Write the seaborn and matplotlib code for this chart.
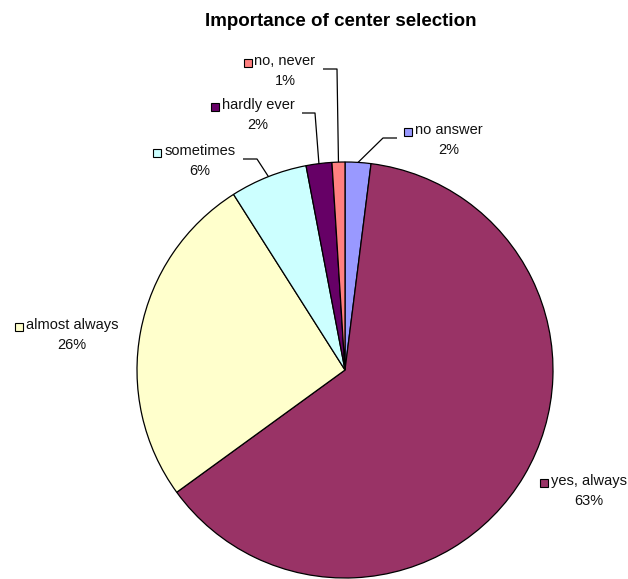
import matplotlib
matplotlib.use("Agg")
import matplotlib.pyplot as plt
from matplotlib.patches import Rectangle
import numpy as np
import seaborn as sns

# Survey answers, listed clockwise from 12 o'clock
categories = ["no answer", "yes, always", "almost always", "sometimes", "hardly ever", "no, never"]
shares = [2, 63, 26, 6, 2, 1]
slice_colors = ["#9999FF", "#993366", "#FFFFCC", "#CCFFFF", "#660066", "#FF8080"]
chart_title = "Importance of center selection"

# Label block centres (pixels from top-left) and leader-line start/elbow x
label_xy = [(449, 140), (589, 491), (72, 335), (200, 161), (258, 115), (285, 71)]
leader_x = [(397, 383), None, None, (243, 257), (302, 315), (323, 337)]

W, H = 628, 579
sns.set_theme(style="white")
plt.rcParams["font.family"] = ["Liberation Sans", "DejaVu Sans"]

fig = plt.figure(figsize=(W / 100, H / 100), dpi=100)
ax = fig.add_axes([0, 0, 1, 1])

center = (345, H - 370)
radius = 208
wedges, _ = ax.pie(
    shares, colors=slice_colors, startangle=90, counterclock=False,
    center=center, radius=radius, frame=True,
    wedgeprops=dict(edgecolor="black", linewidth=0.9),
)
ax.set_xlim(0, W)
ax.set_ylim(0, H)
ax.set_aspect("equal")
ax.axis("off")

texts = []
for name, val, (lx, ly) in zip(categories, shares, label_xy):
    t = ax.text(lx, H - ly, f"{name}\n{val}%", ha="center", va="center",
                multialignment="center", fontsize=10.5, linespacing=1.6,
                color="#111111")
    texts.append(t)

fig.canvas.draw()
renderer = fig.canvas.get_renderer()

for w, t, col, lead in zip(wedges, texts, slice_colors, leader_x):
    bb = t.get_window_extent(renderer)
    ky = bb.y1 - 9
    ax.add_patch(Rectangle((bb.x0 - 11, ky - 4), 8, 8, facecolor=col,
                           edgecolor="black", linewidth=0.8, zorder=5))
    if lead is not None:
        mid = np.deg2rad((w.theta1 + w.theta2) / 2)
        ex = w.center[0] + w.r * np.cos(mid)
        ey = w.center[1] + w.r * np.sin(mid)
        yy = (bb.y0 + bb.y1) / 2 + 2
        ax.plot([lead[0], lead[1], ex], [yy, yy, ey], color="black",
                linewidth=0.9, solid_capstyle="butt", zorder=4)

fig.text(341 / W, 1 - 21 / H, chart_title, ha="center", va="center",
         fontsize=13.5, fontweight="bold", color="black")

fig.savefig("out.png", dpi=100, facecolor="white")
